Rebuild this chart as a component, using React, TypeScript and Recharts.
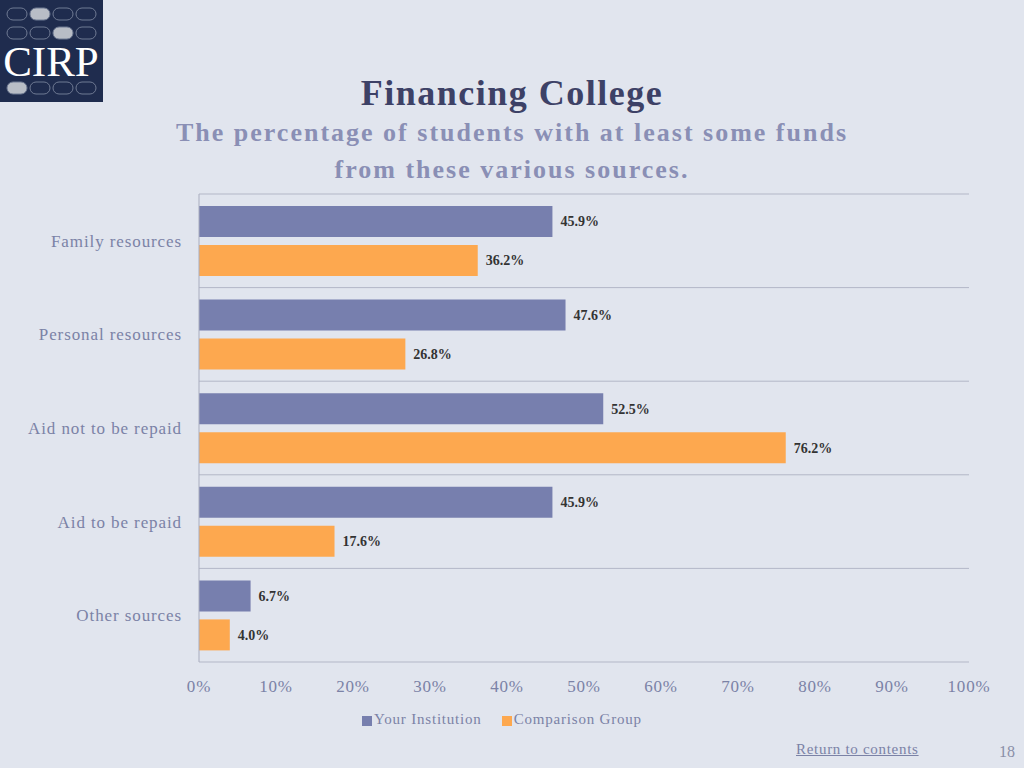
import { Bar, BarChart, CartesianGrid, LabelList, Legend, XAxis, YAxis } from "recharts";

const categories = [
  "Family resources",
  "Personal resources",
  "Aid not to be repaid",
  "Aid to be repaid",
  "Other sources",
];
const yourInstitution = [45.9, 47.6, 52.5, 45.9, 6.7];
const comparisonGroup = [36.2, 26.8, 76.2, 17.6, 4.0];
const xTicks = [0, 10, 20, 30, 40, 50, 60, 70, 80, 90, 100];
const seriesOrder = ["your", "comp"];

const data = categories.map((name, i) => ({
  name,
  your: yourInstitution[i],
  comp: comparisonGroup[i],
}));

const FONT = '"Liberation Serif", "DejaVu Serif", serif';
const MUTED = "#7b82a6";

function Logo() {
  const rows = [
    { y: 14, filled: 1 },
    { y: 33, filled: 2 },
    { y: 88, filled: 0 },
  ];
  return (
    <svg width={103} height={102} style={{ position: "absolute", left: 0, top: 0 }}>
      <rect width={103} height={102} fill="#1f2c4e" />
      {rows.map((r) =>
        [0, 1, 2, 3].map((c) => (
          <rect
            key={`${r.y}-${c}`}
            x={7 + c * 23}
            y={r.y - 6}
            width={20}
            height={12}
            rx={6}
            fill={c === r.filled ? "#b8bdc6" : "none"}
            stroke="#6f7a93"
            strokeWidth={1}
          />
        ))
      )}
      <text x={51} y={76} textAnchor="middle" fill="#ffffff" fontFamily={FONT} fontSize={43}>
        CIRP
      </text>
    </svg>
  );
}

export default function App() {
  return (
    <div
      style={{
        position: "absolute",
        left: 0,
        top: 0,
        width: 1024,
        height: 768,
        background: "#e1e5ee",
        fontFamily: FONT,
        overflow: "hidden",
      }}
    >
      <Logo />
      <div
        style={{
          position: "absolute",
          top: 72,
          left: 0,
          width: 1024,
          textAlign: "center",
          fontSize: 36,
          letterSpacing: 1.5,
          fontWeight: "bold",
          color: "#3d4166",
        }}
      >
        Financing College
      </div>
      <div
        style={{
          position: "absolute",
          top: 114,
          left: 0,
          width: 1024,
          textAlign: "center",
          fontSize: 26,
          lineHeight: "37px",
          letterSpacing: 2,
          fontWeight: "bold",
          color: "#8a8fb5",
        }}
      >
        The percentage of students with at least some funds
        <br />
        from these various sources.
      </div>

      <div style={{ position: "absolute", left: 0, top: 0 }}>
        <BarChart
          width={1024}
          height={768}
          data={data}
          layout="vertical"
          margin={{ top: 194, right: 55, bottom: 33, left: 0 }}
          barCategoryGap={12}
          barGap={8}
        >
          <CartesianGrid
            vertical={false}
            stroke="#b3b7c7"
            horizontalCoordinatesGenerator={({ offset }: any) =>
              categories.concat([""]).map((_, i) => offset.top + (i * offset.height) / categories.length)
            }
          />
          <XAxis
            type="number"
            domain={[0, 100]}
            ticks={xTicks}
            tickFormatter={(v) => `${v}%`}
            axisLine={false}
            tickLine={false}
            tickSize={0}
            tickMargin={18}
            height={42}
            tick={{ fill: MUTED, fontSize: 17, fontFamily: FONT, letterSpacing: 0.8 }}
          />
          <YAxis
            type="category"
            dataKey="name"
            width={199}
            axisLine={{ stroke: "#a9adbf" }}
            tickLine={false}
            tickSize={0}
            tickMargin={17}
            tick={{ fill: MUTED, fontSize: 17, fontFamily: FONT, letterSpacing: 0.9 }}
          />
          <Legend
            verticalAlign="bottom"
            height={24}
            iconType="square"
            iconSize={10}
            itemSorter={(item: any) => seriesOrder.indexOf(item.dataKey)}
            wrapperStyle={{
              fontFamily: FONT,
              fontSize: 15,
              letterSpacing: 0.8,
              paddingTop: 7,
              left: 0,
              width: 1024,
            }}
            formatter={(value) => (
              <span style={{ color: MUTED, marginLeft: -2, marginRight: 10 }}>{value}</span>
            )}
          />
          <Bar dataKey="your" name="Your Institution" fill="#777fae" isAnimationActive={false}>
            <LabelList
              dataKey="your"
              position="right"
              offset={8}
              formatter={(v: any) => `${Number(v).toFixed(1)}%`}
              style={{ fill: "#333333", fontSize: 14, fontWeight: "bold", fontFamily: FONT }}
            />
          </Bar>
          <Bar dataKey="comp" name="Comparison Group" fill="#fda84f" isAnimationActive={false}>
            <LabelList
              dataKey="comp"
              position="right"
              offset={8}
              formatter={(v: any) => `${Number(v).toFixed(1)}%`}
              style={{ fill: "#333333", fontSize: 14, fontWeight: "bold", fontFamily: FONT }}
            />
          </Bar>
        </BarChart>
      </div>

      <div
        style={{
          position: "absolute",
          left: 796,
          top: 741,
          fontSize: 15,
          letterSpacing: 0.7,
          color: "#7b82a6",
          textDecoration: "underline",
        }}
      >
        Return to contents
      </div>
      <div style={{ position: "absolute", left: 999, top: 743, fontSize: 16, color: "#8a8fa8" }}>
        18
      </div>
    </div>
  );
}
